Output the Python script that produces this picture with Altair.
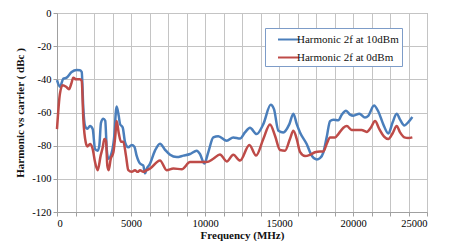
import altair as alt
import pandas as pd

series_names = ["Harmonic 2f at 10dBm", "Harmonic 2f at 0dBm"]
series_colors = ["#4a7ebb", "#be4b48"]

blue_x = [0, 200, 430, 650, 990, 1330, 1550, 1670, 1780, 1890, 2050, 2230, 2410, 2570, 2750, 2860,
          2970, 3130, 3260, 3360, 3470, 3700, 3850, 4030, 4170, 4260, 4440, 4600, 4820, 5050, 5230,
          5380, 5610, 5830, 5950, 6060, 6280, 6620, 6960, 7300, 7640, 8090, 8540, 8990, 9440, 9660,
          9950, 10220, 10560, 10900, 11470, 11910, 12370, 12700, 13040, 13490, 13940, 14440, 14660,
          14960, 15290, 15700, 15970, 16200, 16420, 16870, 17210, 17550, 17770, 18000, 18220, 18450,
          18670, 19010, 19240, 19530, 19800, 20020, 20430, 20810, 21030, 21420, 21710, 22050, 22390,
          22680, 22950, 23180, 23470, 23740, 24010]
blue_y = [-40.5, -44.5, -39.6, -39, -35.6, -34.4, -34.5, -35.6, -58, -68, -69.8, -68.2, -70, -82, -83, -80,
          -66.2, -63.8, -65, -82, -87.9, -84, -76, -56.4, -62, -67, -69, -78, -81, -79.6, -80.6,
          -86, -90.8, -92, -96.7, -94, -91, -83, -78.8, -82.5, -85.5, -86.9, -86, -85, -83, -85,
          -90.8, -84, -75, -74.3, -77, -75, -75.7, -72, -69.2, -73, -67, -55.4, -58,
          -71, -72, -67, -60.7, -67, -72, -79, -86, -88.3, -87.5, -84, -75, -65.2,
          -64.3, -64.7, -61.3, -58.9, -61.3, -61.9, -60.7, -63, -62, -55.8, -59.4, -67.2, -72.7,
          -65.9, -60.7, -64.3, -67.8, -65.8, -62.7]

red_x = [0, 200, 385, 620, 810, 970, 1100, 1280, 1550, 1670, 1780, 1940, 2050, 2230, 2410, 2570, 2750,
         2950, 3090, 3200, 3310, 3400, 3490, 3630, 3810, 3940, 4030, 4170, 4320, 4480, 4660, 4820, 5050,
         5270, 5450, 5610, 5830, 6060, 6280, 6960, 7410, 7860, 8430, 8990, 9660, 10110, 10560, 11010,
         11470, 11910, 12370, 13000, 13450, 13940, 14390, 14730, 15070, 15410, 15740, 15970, 16200,
         16420, 16760, 17100, 17430, 17770, 18000, 18220, 18450, 18790, 19010, 19350, 19580, 19910,
         20250, 20580, 20930, 21200, 21490, 21780, 22100, 22390, 22680, 22950, 23180, 23470, 23740, 24010]
red_y = [-70, -48.5, -43.5, -44.5, -46, -42.5, -39, -40, -40, -41, -64, -78, -80.5, -79, -82, -89.9, -94.8,
         -86, -81, -76, -77, -92, -94.8, -88, -84, -74, -65.2, -72.3, -77.6, -77.6, -86, -94.8, -95.8,
         -94.8, -95.8, -94.8, -95.8, -94.8, -93.8, -88.9, -94.8, -93.8, -94.2, -89.9, -89.9, -89.9, -87.9, -85.3,
         -89.5, -85.5, -89, -79.6, -86, -76, -67.2, -74, -82.6, -83, -76, -71, -76,
         -83.8, -86.3, -85.5, -84, -83.5, -83.5, -79, -75, -75, -73, -69.2, -68.2, -70.5,
         -70.5, -70.5, -71.7, -69.2, -65.2, -70, -74.5, -76, -72.5, -68.2, -72, -75, -75.4, -75]

x_ticks = list(range(0, 25001, 1250))
y_ticks = list(range(-120, 1, 20))

df = pd.concat([
    pd.DataFrame({"freq": blue_x, "val": blue_y, "series": series_names[0]}),
    pd.DataFrame({"freq": red_x, "val": red_y, "series": series_names[1]}),
])

font = "Liberation Serif"

chart = alt.Chart(df).mark_line(strokeWidth=2.5, interpolate="monotone").encode(
    x=alt.X("freq:Q", scale=alt.Scale(domain=[0, 25000], nice=False),
            axis=alt.Axis(values=x_ticks, title="Frequency (MHz)",
                          labelExpr="datum.value % 2500 == 0 ? datum.value + '' : ''",
                          titlePadding=1)),
    y=alt.Y("val:Q", scale=alt.Scale(domain=[-120, 0], nice=False),
            axis=alt.Axis(values=y_ticks, title="Harmonic vs carrier ( dBc )",
                          labelExpr="datum.value + ''", titlePadding=6)),
    color=alt.Color("series:N",
                    scale=alt.Scale(domain=series_names, range=series_colors),
                    legend=alt.Legend(title=None, orient="none", legendX=208, legendY=15,
                                      symbolType="M-1.4,0H1.4", symbolSize=225,
                                      symbolStrokeWidth=2, symbolOffset=12,
                                      labelOffset=0, padding=3, rowPadding=4,
                                      labelExpr="datum.label + '      '",
                                      fillColor="white", strokeColor="#7d9cc8",
                                      labelFont=font, labelFontSize=11, labelColor="#111")),
).properties(
    width=370, height=199,
    autosize=alt.AutoSizeParams(type="none"),
    padding={"left": 49, "top": 5, "right": 17, "bottom": 29},
).configure_axis(
    gridColor="#c4c4c4", gridWidth=1, domainColor="#a0a0a0", tickColor="#a0a0a0",
    tickSize=4, labelFont=font, labelFontSize=10.5, labelColor="#000",
    titleFont=font, titleFontSize=11, titleFontWeight="bold", titleColor="#111",
    labelPadding=2,
).configure_view(stroke="#a0a0a0")

chart.save("out.html", embed_options={"renderer": "svg", "actions": False})
